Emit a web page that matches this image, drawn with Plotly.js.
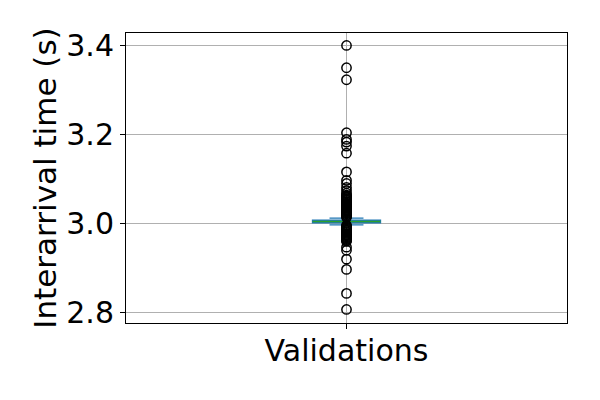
<!DOCTYPE html>
<html>
<head>
<meta charset="utf-8">
<script src="https://cdn.plot.ly/plotly-3.0.1.min.js"></script>
<style>html,body{margin:0;padding:0;background:#fff;}#chart{width:600px;height:400px;}</style>
</head>
<body>
<div id="chart"></div>
<script>
// Category
const categories = ["Validations"];
// Box statistics (seconds)
const q1 = [3.0016];
const medians = [3.0047];
const q3 = [3.0077];
const lowerWhisker = [2.997];
const upperWhisker = [3.0122];
// Outliers (fliers), seconds
const outliers = [
  3.400, 3.350, 3.323, 3.204, 3.189, 3.183, 3.174, 3.158, 3.116, 3.097, 3.090, 3.081, 3.074, 3.068,
  3.064, 3.062, 3.060, 3.058, 3.056, 3.054, 3.052, 3.050, 3.048, 3.046, 3.044, 3.042, 3.040,
  3.038, 3.036, 3.034, 3.032, 3.030, 3.028, 3.026, 3.024, 3.022, 3.020, 3.018, 3.016, 3.014,
  2.996, 2.994, 2.992, 2.990, 2.988, 2.986, 2.984, 2.982, 2.980, 2.978, 2.976, 2.974, 2.972,
  2.970, 2.968, 2.966, 2.964, 2.962, 2.960,
  2.947, 2.940, 2.920, 2.897, 2.843, 2.807
];
const yTicks = [2.8, 3.0, 3.2, 3.4];
const yTickText = ["2.8", "3.0", "3.2", "3.4"];

const pos = 0;
const boxWidth = 0.154;
const font = {family: "DejaVu Sans", size: 30, color: "#000"};
const titleFont = {family: "DejaVu Sans", size: 31, color: "#000"};

const traces = [
  {
    type: "box",
    x: [pos],
    q1: q1, median: medians, q3: q3,
    lowerfence: lowerWhisker, upperfence: upperWhisker,
    width: boxWidth,
    whiskerwidth: 0.5,
    fillcolor: "rgba(0,0,0,0)",
    line: {color: "#1f77b4", width: 1.4},
    boxpoints: false,
    hoverinfo: "skip",
    showlegend: false
  },
  {
    type: "scatter", mode: "lines",
    x: [pos - boxWidth / 2, pos + boxWidth / 2],
    y: [medians[0], medians[0]],
    line: {color: "#2ca02c", width: 1.4},
    hoverinfo: "skip", showlegend: false
  },
  {
    type: "scatter", mode: "markers",
    x: outliers.map(() => pos),
    y: outliers,
    marker: {symbol: "circle-open", size: 9.3, color: "#000", line: {color: "#000", width: 1.5}},
    hoverinfo: "skip", showlegend: false
  }
];

const layout = {
  width: 600, height: 400,
  margin: {l: 126, r: 33, t: 33, b: 77, pad: 0},
  paper_bgcolor: "#fff", plot_bgcolor: "#fff",
  font: font,
  xaxis: {
    range: [-0.5, 0.5],
    tickvals: [pos], ticktext: categories,
    ticks: "outside", ticklen: 4.9, tickwidth: 1.1, tickcolor: "#000",
    ticklabelstandoff: -4,
    showgrid: true, gridcolor: "#b0b0b0", gridwidth: 1.1,
    zeroline: false,
    showline: true, linecolor: "#000", linewidth: 1.1, mirror: true,
    tickfont: font,
    automargin: false
  },
  yaxis: {
    range: [2.7766, 3.428],
    tickvals: yTicks, ticktext: yTickText,
    ticks: "outside", ticklen: 4.9, tickwidth: 1.1, tickcolor: "#000",
    showgrid: true, gridcolor: "#b0b0b0", gridwidth: 1.1,
    zeroline: false,
    showline: true, linecolor: "#000", linewidth: 1.1, mirror: true,
    tickfont: font,
    title: {text: "Interarrival time (s)", font: titleFont, standoff: 0},
    automargin: false
  }
};

Plotly.newPlot("chart", traces, layout, {staticPlot: true, displayModeBar: false});
</script>
</body>
</html>
